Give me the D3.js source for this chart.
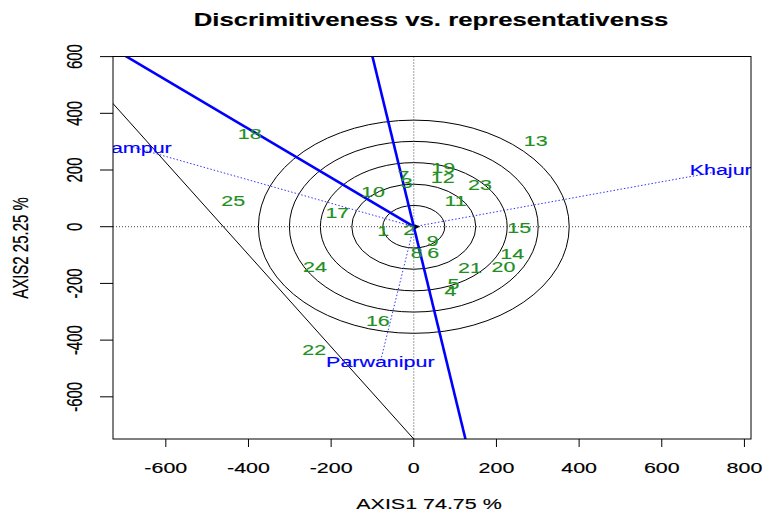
<!DOCTYPE html>
<html>
<head>
<meta charset="utf-8">
<script src="https://cdn.jsdelivr.net/npm/d3@7"></script>
<style>
  body { margin: 0; background: #fff; }
  svg { font-family: "Liberation Sans", Arial, sans-serif; }
</style>
</head>
<body>
<svg id="chart" width="763" height="510"></svg>
<script>
// genotype scores
var genotypes = ["1","2","3","4","5","6","7","8","9","10","11","12","13",
                 "14","15","16","17","18","19","20","21","22","23","24","25"];
var genoX = [-74, -11, -17, 89, 96, 47, -25, 7, 46, -99, 101, 70, 295,
             238, 255, -87, -185, -397, 71, 217, 136, -241, 160, -239, -437];
var genoY = [-12, -9, 155, -226, -200, -90, 179, -90, -49, 124, 91, 175, 303,
             -96, -4, -332, 49, 327, 208, -141, -145, -435, 150, -141, 92];

// environment scores
var envNames = ["Rampur", "Khajura", "Parwanipur"];
var envX = [-678, 757, -81];
var envY = [280, 200, -477];

// concentric circles around the origin
var circleRadii = [75, 150, 226, 301, 376];

// lines: two points each (data units), extended and clipped to the box
var steepLine = [[-100, 600], [125, -749]];
var aeaRay = [[0, 0], [-695, 600]];
var blackLine = [[0, -749], [-727, 433]];

var xTicks = [-600, -400, -200, 0, 200, 400, 600, 800];
var yTicks = [-600, -400, -200, 0, 200, 400, 600];

var SX = 1.43; // the original picture is stretched sideways

var svg = d3.select("#chart");
var pLeft = 113, pRight = 751, pTop = 56.5, pBottom = 439;

var x = d3.scaleLinear().domain([-727.8, 815.9]).range([pLeft, pRight]);
var y = d3.scaleLinear().domain([-748.8, 600.4]).range([pBottom, pTop]);

svg.append("defs").append("clipPath").attr("id", "plotclip")
  .append("rect")
  .attr("x", pLeft).attr("y", pTop)
  .attr("width", pRight - pLeft).attr("height", pBottom - pTop);

function stretched(sel, px, py) {
  return sel.attr("transform", "translate(" + px + "," + py + ") scale(" + SX + ",1)");
}

// slightly heavier glyphs, like the resampled original
function heavy(sel, color) {
  return sel.attr("fill", color).attr("stroke", color).attr("stroke-width", 0.15);
}

var plot = svg.append("g").attr("clip-path", "url(#plotclip)");

// circles
plot.selectAll("ellipse.ring")
  .data(circleRadii)
  .enter().append("ellipse")
  .attr("class", "ring")
  .attr("cx", x(0)).attr("cy", y(0))
  .attr("rx", function(d) { return x(d) - x(0); })
  .attr("ry", function(d) { return y(0) - y(d); })
  .attr("fill", "none")
  .attr("stroke", "#000")
  .attr("stroke-width", 1);

// dotted reference axes
plot.append("line")
  .attr("x1", pLeft).attr("x2", pRight)
  .attr("y1", y(0)).attr("y2", y(0))
  .attr("stroke", "#444").attr("stroke-dasharray", "1,2");
plot.append("line")
  .attr("x1", x(0)).attr("x2", x(0))
  .attr("y1", pTop).attr("y2", pBottom)
  .attr("stroke", "#444").attr("stroke-dasharray", "1,2");

// environment vectors
envNames.forEach(function(name, i) {
  plot.append("line")
    .attr("x1", x(0)).attr("y1", y(0))
    .attr("x2", x(envX[i])).attr("y2", y(envY[i]))
    .attr("stroke", "#3333ff")
    .attr("stroke-width", 1)
    .attr("stroke-dasharray", "1.5,2");
});

function extended(pts, t0, t1) {
  var a = pts[0], b = pts[1];
  var p = function(t) { return [a[0] + t * (b[0] - a[0]), a[1] + t * (b[1] - a[1])]; };
  var s = p(t0), e = p(t1);
  return { x1: x(s[0]), y1: y(s[1]), x2: x(e[0]), y2: y(e[1]) };
}

function drawSeg(seg, color, width) {
  plot.append("line")
    .attr("x1", seg.x1).attr("y1", seg.y1)
    .attr("x2", seg.x2).attr("y2", seg.y2)
    .attr("stroke", color)
    .attr("stroke-width", width);
}

drawSeg(extended(blackLine, -1, 2), "#000", 1);
drawSeg(extended(steepLine, -1, 2), "#0000ff", 2.6);
drawSeg(extended(aeaRay, 0, 2), "#0000ff", 2.6);

// small arrow at the origin
plot.append("path")
  .attr("d", "M" + (x(0) + 1) + "," + (y(0) - 2.5) + " L" + (x(0) + 6) + "," + y(0) +
             " L" + (x(0) + 1) + "," + (y(0) + 2.5) + " Z")
  .attr("fill", "#000");

// genotype labels
genotypes.forEach(function(g, i) {
  heavy(stretched(plot.append("text"), x(genoX[i]), y(genoY[i])), "#1f8f1f")
    .attr("text-anchor", "middle")
    .attr("dy", "0.36em")
    .attr("font-size", 15)
    .text(g);
});

// environment labels
envNames.forEach(function(name, i) {
  heavy(stretched(plot.append("text"), x(envX[i]), y(envY[i])), "#0000ff")
    .attr("text-anchor", "middle")
    .attr("dy", "0.36em")
    .attr("font-size", 15)
    .text(name);
});

// box
svg.append("rect")
  .attr("x", pLeft).attr("y", pTop)
  .attr("width", pRight - pLeft).attr("height", pBottom - pTop)
  .attr("fill", "none").attr("stroke", "#000").attr("stroke-width", 1);

// x axis
var xa = svg.append("g");
xTicks.forEach(function(t) {
  xa.append("line")
    .attr("x1", x(t)).attr("x2", x(t))
    .attr("y1", pBottom).attr("y2", pBottom + 8)
    .attr("stroke", "#000");
  heavy(stretched(xa.append("text"), x(t), 473), "#000")
    .attr("text-anchor", "middle")
    .attr("font-size", 15)
    .text(t);
});

// y axis
var ya = svg.append("g");
yTicks.forEach(function(t) {
  ya.append("line")
    .attr("x1", pLeft).attr("x2", pLeft - 13)
    .attr("y1", y(t)).attr("y2", y(t))
    .attr("stroke", "#000");
  heavy(ya.append("text"), "#000")
    .attr("transform", "translate(81.5," + y(t) + ") scale(" + SX + ",1) rotate(-90)")
    .attr("text-anchor", "middle")
    .attr("font-size", 15)
    .text(t);
});

// titles
heavy(stretched(svg.append("text"), 431, 26), "#000")
  .attr("text-anchor", "middle")
  .attr("font-size", 18)
  .attr("font-weight", "bold")
  .text("Discrimitiveness vs. representativenss");

heavy(stretched(svg.append("text"), 429, 509), "#000")
  .attr("text-anchor", "middle")
  .attr("font-size", 15)
  .text("AXIS1 74.75 %");

heavy(svg.append("text"), "#000")
  .attr("transform", "translate(28,248) scale(" + SX + ",1) rotate(-90)")
  .attr("text-anchor", "middle")
  .attr("font-size", 15)
  .text("AXIS2 25.25 %");
</script>
</body>
</html>
